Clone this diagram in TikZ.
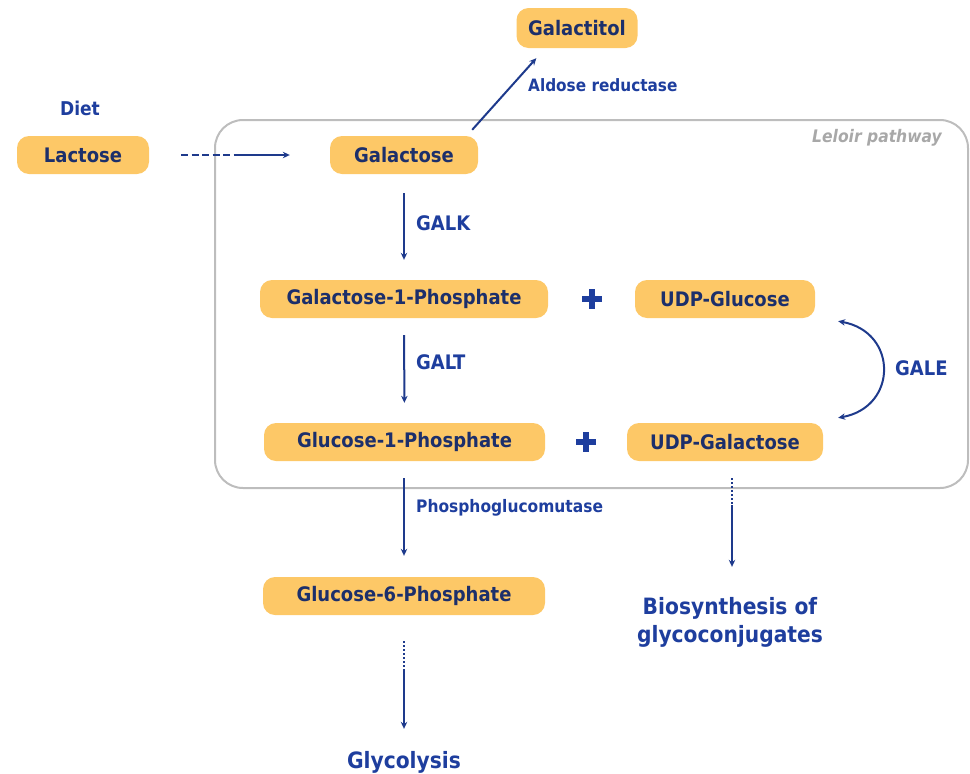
\documentclass[tikz,border=0pt]{standalone}
\usepackage{fontspec}
\setmainfont{DejaVu Sans Condensed}[BoldFont={DejaVu Sans Condensed Bold},ItalicFont={DejaVu Sans Condensed Oblique},BoldItalicFont={DejaVu Sans Condensed Bold Oblique}]
\usetikzlibrary{calc,arrows.meta}
\definecolor{boxc}{HTML}{FDC867}
\definecolor{boxtxt}{HTML}{1C2F6B}
\definecolor{lblc}{HTML}{1E3E9E}
\definecolor{arrc}{HTML}{1E3A8C}
\definecolor{framec}{HTML}{BDBDBD}
\definecolor{leloirc}{HTML}{A8A8A8}
\tikzset{
  mbox/.style={rectangle, rounded corners=12pt, fill=boxc, minimum height=38pt, inner sep=0pt, text=boxtxt, font=\bfseries\fontsize{20}{22}\selectfont},
  lbl/.style={text=lblc, font=\bfseries\fontsize{17}{19}\selectfont, inner sep=0pt},
  enz/.style={lbl, anchor=west, font=\bfseries\fontsize{20}{22}\selectfont},
  biglbl/.style={text=lblc, font=\bfseries\fontsize{22.5}{28}\selectfont, inner sep=0pt, align=center},
  conn/.style={draw=arrc, line width=2pt},
  arr/.style={conn, -{Stealth[length=7pt,width=6.5pt]}},
  dotline/.style={conn, dash pattern=on 2pt off 2pt},
  plusmark/.style={draw=lblc, line width=6.5pt}
}
\begin{document}
\begin{tikzpicture}[x=1pt,y=-1pt]
\useasboundingbox (0,0) rectangle (970,774);
% Leloir frame
\draw[framec, line width=2pt, rounded corners=28pt] (215,120) rectangle (968,488);
\node[anchor=east, text=leloirc, font=\bfseries\itshape\fontsize{17.3}{19}\selectfont, inner sep=0pt] (leloir) at (942,138) {Leloir pathway};

% boxes
\node[mbox, minimum width=121pt, minimum height=40pt] (galactitol) at (577,28) {Galactitol};
\node[mbox, minimum width=132pt] (lactose) at (83,155) {Lactose};
\node[mbox, minimum width=148pt] (galactose) at (404,155) {Galactose};
\node[mbox, minimum width=288pt] (gal1p) at (404,299) {Galactose-1-Phosphate};
\node[mbox, minimum width=180pt] (udpglc) at (725,299) {UDP-Glucose};
\node[mbox, minimum width=281pt] (glc1p) at (404.5,442) {Glucose-1-Phosphate};
\node[mbox, minimum width=196pt] (udpgal) at (725,442) {UDP-Galactose};
\node[mbox, minimum width=282pt] (glc6p) at (404,596) {Glucose-6-Phosphate};

% labels
\node[lbl, font=\bfseries\fontsize{19}{20}\selectfont] (diet) at (80,108) {Diet};
\node[lbl, anchor=west] (aldose) at (528,85) {Aldose reductase};
\node[enz] (galk) at (416,223) {GALK};
\node[enz] (galt) at (416,362) {GALT};
\node[enz] (gale) at (895,368) {GALE};
\node[lbl, anchor=west, font=\bfseries\fontsize{17.2}{19}\selectfont] (pgm) at (416,508) {Phosphoglucomutase};
\node[biglbl] (glycolysis) at (404,762) {Glycolysis};
\node[biglbl] (biosyn) at (730,622) {Biosynthesis of\\glycoconjugates};

% plus signs
\coordinate (plus1) at (592,299);
\coordinate (plus2) at (586,442);
\foreach \p in {plus1,plus2}{
  \draw[plusmark] ($(\p)+(-10,0)$) -- ($(\p)+(10,0)$);
  \draw[plusmark] ($(\p)+(0,-10)$) -- ($(\p)+(0,10)$);
}

% arrows
\draw[conn, dash pattern=on 7pt off 3.5pt] ($(lactose.east)+(32,0)$) coordinate (lstart) -- ($(lactose.east)+(86,0)$) coordinate (lmid);
\draw[arr] (lmid) -- ($(galactose.west)+(-40,0)$);
\draw[arr] ($(galactose.north east)+(-6,-6)$) -- ($(galactitol.south west)+(20,10)$);
\draw[arr, shorten <=19pt, shorten >=20pt] (galactose.south) -- (gal1p.north);
\draw[arr, shorten <=17pt, shorten >=20pt] (gal1p.south) -- (glc1p.north);
\draw[arr, shorten <=17pt, shorten >=21pt] (glc1p.south -| glc6p.north) -- (glc6p.north);
% glycolysis
\draw[dotline] ($(glc6p.south)+(0,26)$) -- ($(glc6p.south)+(0,54)$) coordinate (g6mid);
\draw[arr] (g6mid) -- ($(glycolysis.north)+(0,-22)$);
% biosynthesis
\draw[dotline] ($(udpgal.south)+(7,17)$) -- ($(udpgal.south)+(7,44)$) coordinate (ugmid);
\draw[arr] (ugmid) -- ($(biosyn.north)+(2,-30)$);
% GALE
\draw[conn, {Stealth[length=7pt,width=6.5pt]}-{Stealth[length=7pt,width=6.5pt]}] ($(udpglc.south east)+(23,3)$) .. controls (898,332) and (898,407) .. ($(udpgal.north east)+(15,-5)$);
\end{tikzpicture}
\end{document}
